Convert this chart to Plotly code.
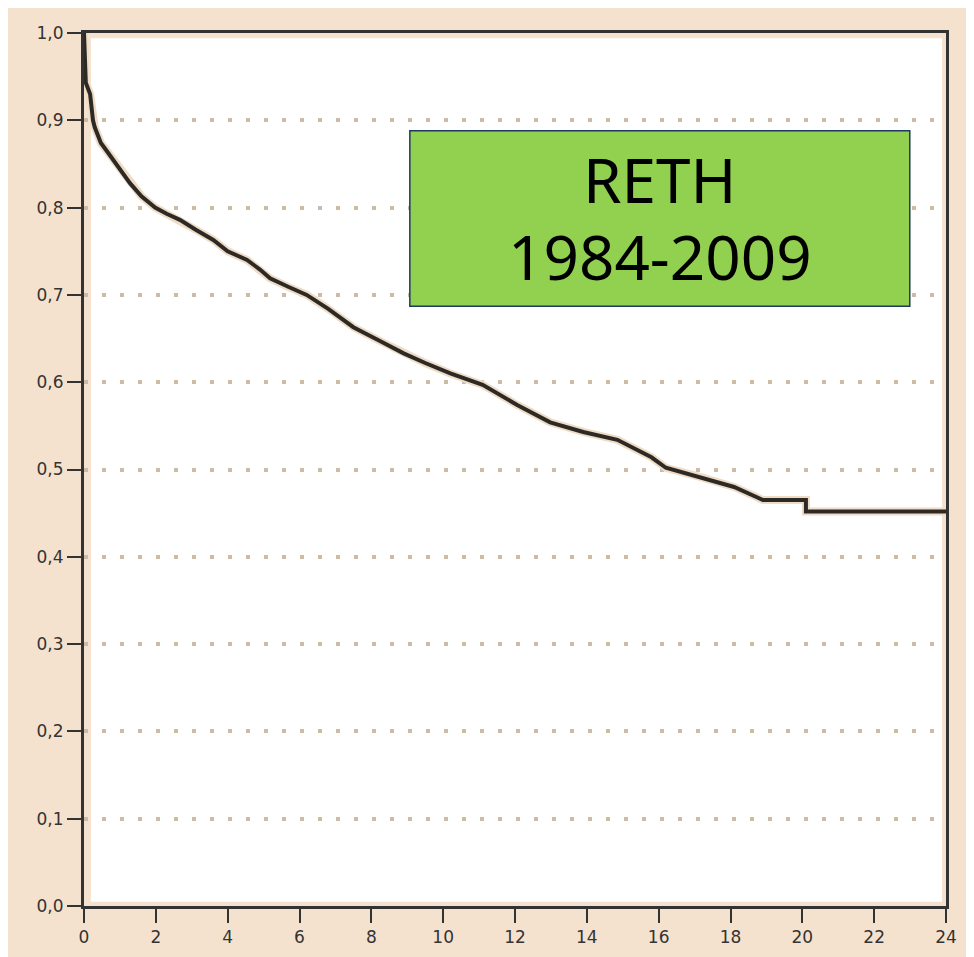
import plotly.graph_objects as go

# Kaplan-Meier survival curve (years vs cumulative survival)
time_years = [0, 0.05, 0.17, 0.25, 0.3, 0.47, 0.65, 0.81, 1.0, 1.28, 1.6, 1.98, 2.3, 2.67,
              3.1, 3.6, 4.0, 4.54, 4.9, 5.18, 5.7, 6.2, 6.8, 7.5, 8.2, 8.9, 9.5, 10.2,
              11.1, 12.06, 12.98, 13.9, 14.85, 15.8, 16.2, 17.2, 18.1, 18.75, 18.9,
              20.1, 20.1, 24]
survival = [1.0, 0.943, 0.93, 0.90, 0.892, 0.874, 0.864, 0.855, 0.845, 0.828, 0.813, 0.80,
            0.793, 0.786, 0.775, 0.763, 0.750, 0.740, 0.729, 0.719, 0.709, 0.70, 0.684,
            0.663, 0.648, 0.633, 0.622, 0.61, 0.597, 0.574, 0.554, 0.543, 0.534, 0.514,
            0.502, 0.491, 0.48, 0.468, 0.465, 0.465, 0.452, 0.452]

x_ticks = list(range(0, 25, 2))
y_ticks = [round(i / 10, 1) for i in range(0, 11)]
box_lines = ["RETH", "1984-2009"]

PEACH = "#f5e2ce"
DARK = "#333333"

fig = go.Figure()
# light halo under the curve
fig.add_trace(go.Scatter(x=time_years, y=survival, mode="lines",
                         line=dict(color="#efdcc6", width=8, shape="linear"),
                         hoverinfo="skip", showlegend=False))
fig.add_trace(go.Scatter(x=time_years, y=survival, mode="lines",
                         line=dict(color="#2d2a26", width=4, shape="linear"),
                         showlegend=False))

fig.update_layout(
    width=982, height=965,
    margin=dict(l=76, r=44, t=25, b=67),
    paper_bgcolor=PEACH,
    plot_bgcolor=PEACH,
    separators=",.",
    showlegend=False,
    font=dict(family="DejaVu Sans", size=17, color=DARK),
    xaxis=dict(range=[0, 24], tickvals=x_ticks, showgrid=False, zeroline=False,
               showline=True, linecolor=DARK, linewidth=3, mirror=True,
               ticks="outside", ticklen=14, tickwidth=2, tickcolor=DARK,
               tickfont=dict(family="DejaVu Sans", size=17, color=DARK)),
    yaxis=dict(range=[0, 1], tickvals=y_ticks, tickformat=".1f", showgrid=True,
               gridcolor="#cdbba6", gridwidth=4, griddash="4px,14px", zeroline=False,
               showline=True, linecolor=DARK, linewidth=3, mirror=True,
               ticks="outside", ticklen=14, tickwidth=2, tickcolor=DARK,
               tickfont=dict(family="DejaVu Sans", size=17, color=DARK)),
    shapes=[
        # white inner plot area (slightly inset from the frame)
        dict(type="rect", xref="paper", yref="paper", x0=0.008, x1=0.9954,
             y0=0.005, y1=0.994, fillcolor="white", line=dict(width=0), layer="below"),
        # green label box
        dict(type="rect", xref="paper", yref="paper", x0=0.378, x1=0.958,
             y0=0.687, y1=0.888, fillcolor="#92d050",
             line=dict(color="#1f3864", width=1.5), layer="above"),
    ],
    annotations=[
        dict(text=box_lines[0], xref="paper", yref="paper", x=0.668, y=0.833,
             xanchor="center", yanchor="middle", showarrow=False,
             font=dict(family="Noto Sans", size=62, color="black")),
        dict(text=box_lines[1], xref="paper", yref="paper", x=0.668, y=0.744,
             xanchor="center", yanchor="middle", showarrow=False,
             font=dict(family="Noto Sans", size=62, color="black")),
    ],
)

fig.write_html("out.html")
